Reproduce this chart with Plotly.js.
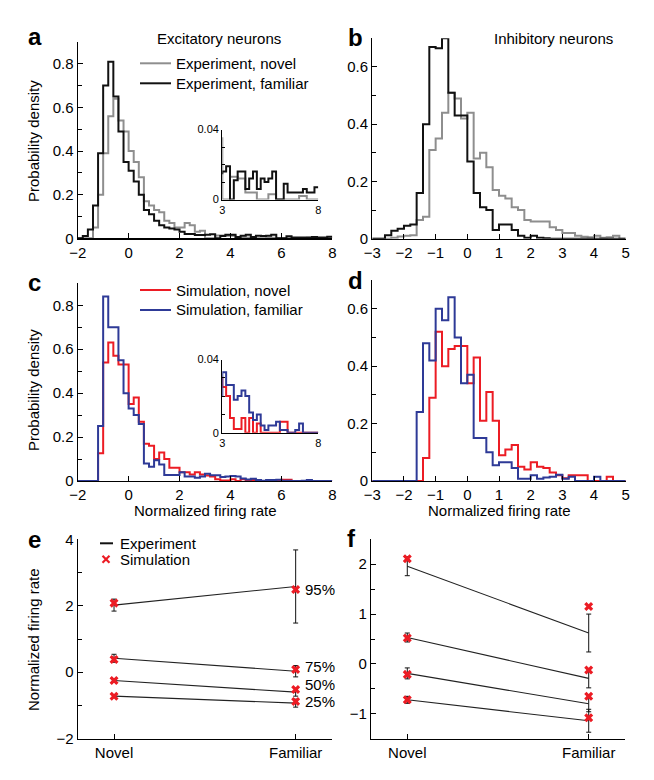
<!DOCTYPE html>
<html><head><meta charset="utf-8">
<script src="https://cdn.plot.ly/plotly-3.0.1.min.js"></script>
<style>html,body{margin:0;padding:0;background:#fff;}#chart{width:654px;height:780px;}</style>
</head><body><div id="chart"></div>
<script>
// ---------- DATA ----------
const binWidth = 0.2;
const excStart = -2;   // first bin edge, panels a & c
const inhStart = -3;   // first bin edge, panels b & d

// Panel a: excitatory, experiment
const aNovel = [0,0,0,0.05,0.20,0.39,0.56,0.64,0.54,0.49,
  0.40,0.35,0.28,0.17,0.15,0.13,0.12,0.08,0.07,0.05,
  0.05,0.07,0.06,0.03,0.035,0,0,0.013,0.013,0.012,
  0.012,0.004,0.004,0.004,0,0,0,0.003,0.003,0,
  0,0,0,0,0,0.002,0.002,0,0,0];
const aFamiliar = [0,0.01,0.04,0.15,0.39,0.70,0.81,0.65,0.49,0.35,
  0.31,0.26,0.20,0.13,0.11,0.08,0.06,0.05,0.045,0.04,
  0.03,0.02,0.02,0.015,0.015,0.016,0.019,0,0.011,0.016,
  0.016,0.006,0.012,0.016,0.006,0.012,0.010,0.012,0.016,0,
  0,0.009,0.004,0.004,0.004,0.004,0.006,0.004,0.004,0.007];

// Panel b: inhibitory, experiment
const bNovel = [0,0,0,0.003,0.008,0.01,0.012,0.065,0.077,0.31,
  0.35,0.44,0.51,0.49,0.42,0.44,0.28,0.30,0.25,0.17,
  0.15,0.14,0.11,0.10,0.065,0.06,0.06,0.06,0.04,0.03,
  0.02,0.02,0.01,0.007,0.005,0.01,0.003,0.005,0.01,0];
const bFamiliar = [0,0,0.012,0.028,0.035,0.045,0.05,0.16,0.40,0.67,
  0.665,0.70,0.51,0.43,0.43,0.27,0.16,0.11,0.10,0.03,
  0.05,0.05,0.03,0.01,0.003,0.01,0.003,0.002,0,0,
  0,0,0,0,0,0,0,0,0,0];

// Panel c: excitatory, simulation
const cNovel = [0,0,0,0,0.126,0.54,0.63,0.57,0.53,0.53,
  0.35,0.38,0.27,0.17,0.16,0.10,0.13,0.10,0.06,0.06,
  0.04,0.04,0.03,0.04,0.03,0.025,0.02,0.008,0.002,0.002,
  0.008,0,0.008,0,0.005,0,0,0,0,0,
  0.006,0.006,0,0,0,0,0,0,0,0];
const cFamiliar = [0,0,0,0,0.25,0.84,0.70,0.70,0.55,0.40,
  0.33,0.30,0.26,0.08,0.065,0.095,0.075,0.027,0.027,0.027,
  0.04,0.02,0.02,0.015,0.02,0.033,0.026,0.026,0.018,0.020,
  0.023,0.020,0.011,0.007,0.010,0.004,0.0015,0.004,0.004,0.006,
  0.0015,0.0015,0,0,0.0015,0.005,0,0,0,0];

// Panel d: inhibitory, simulation
const dNovel = [0,0,0,0,0,0,0,0,0.08,0.29,
  0.52,0.40,0.46,0.47,0.47,0.34,0.43,0.21,0.31,0.21,
  0.09,0.11,0.125,0.05,0.04,0.065,0.05,0.045,0.03,0.02,
  0.01,0.02,0.02,0.02,0,0,0,0.015,0,0];
const dFamiliar = [0,0,0,0,0,0,0,0.24,0.48,0.42,
  0.60,0.56,0.64,0.50,0.34,0.37,0.15,0.15,0.10,0.055,
  0.065,0.065,0.045,0.008,0.008,0.02,0.008,0.012,0.015,0.022,
  0.008,0.015,0,0,0,0.015,0,0,0,0];

// Panels e & f: percentiles (95, 75, 50, 25)
const conditions = ['Novel', 'Familiar'];
const percentiles = ['95%', '75%', '50%', '25%'];
const eExpNovel = [2.02, 0.42, -0.25, -0.72];
const eExpNovelErr = [0.18, 0.12, 0.05, 0.05];
const eExpFamiliar = [2.58, 0.03, -0.60, -0.93];
const eExpFamiliarErr = [1.1, 0.17, 0.12, 0.12];
const eSimNovel = [2.08, 0.38, -0.25, -0.72];
const eSimFamiliar = [2.49, 0.08, -0.52, -0.88];

const fExpNovel = [1.96, 0.53, -0.19, -0.72];
const fExpNovelErr = [0.19, 0.09, 0.11, 0.07];
const fExpFamiliar = [0.62, -0.29, -0.80, -1.14];
const fExpFamiliarErr = [0.38, 0.19, 0.16, 0.23];
const fSimNovel = [2.11, 0.52, -0.21, -0.72];
const fSimFamiliar = [1.15, -0.12, -0.65, -1.08];

// ---------- STYLE ----------
const FONT = 'Liberation Sans, Arial, Helvetica, sans-serif';
const GRAY = '#8e8e8e', BLACK = '#111111', RED = '#ec1c24', BLUE = '#2e3a97';
const W = 654, H = 780;
const px = v => v / W;
const py = v => 1 - v / H;

function stepTrace(start, vals, xa, ya, color) {
  const xs = vals.map((_, i) => +(start + i * binWidth).toFixed(3));
  xs.push(+(start + vals.length * binWidth).toFixed(3));
  const ys = vals.concat([vals[vals.length - 1]]);
  return {type: 'scatter', mode: 'lines', x: xs, y: ys, xaxis: xa, yaxis: ya,
    line: {shape: 'hv', color: color, width: 2}, hoverinfo: 'skip'};
}

const traces = [];
traces.push(stepTrace(excStart, aNovel, 'x', 'y', GRAY));
traces.push(stepTrace(excStart, aFamiliar, 'x', 'y', BLACK));
traces.push(stepTrace(inhStart, bNovel, 'x2', 'y2', GRAY));
traces.push(stepTrace(inhStart, bFamiliar, 'x2', 'y2', BLACK));
traces.push(stepTrace(excStart, cNovel, 'x3', 'y3', RED));
traces.push(stepTrace(excStart, cFamiliar, 'x3', 'y3', BLUE));
traces.push(stepTrace(inhStart, dNovel, 'x4', 'y4', RED));
traces.push(stepTrace(inhStart, dFamiliar, 'x4', 'y4', BLUE));
traces.push(stepTrace(excStart, aNovel, 'x7', 'y7', GRAY));
traces.push(stepTrace(excStart, aFamiliar, 'x7', 'y7', BLACK));
traces.push(stepTrace(excStart, cNovel, 'x8', 'y8', RED));
traces.push(stepTrace(excStart, cFamiliar, 'x8', 'y8', BLUE));

function pctTraces(expN, expNErr, expF, expFErr, simN, simF, xa, ya) {
  const out = [];
  for (let i = 0; i < expN.length; i++) {
    out.push({type: 'scatter', mode: 'lines', x: [0, 1], y: [expN[i], expF[i]],
      xaxis: xa, yaxis: ya, line: {color: '#222', width: 1.1}, hoverinfo: 'skip',
      error_y: {type: 'data', array: [expNErr[i], expFErr[i]], visible: true,
        color: '#111', thickness: 1, width: 2.5}});
  }
  out.push({type: 'scatter', mode: 'markers',
    x: simN.map(() => 0).concat(simF.map(() => 1)), y: simN.concat(simF),
    xaxis: xa, yaxis: ya, hoverinfo: 'skip',
    marker: {symbol: 'x', size: 8, color: RED, line: {width: 0}}});
  return out;
}
traces.push(...pctTraces(eExpNovel, eExpNovelErr, eExpFamiliar, eExpFamiliarErr, eSimNovel, eSimFamiliar, 'x5', 'y5'));
traces.push(...pctTraces(fExpNovel, fExpNovelErr, fExpFamiliar, fExpFamiliarErr, fSimNovel, fSimFamiliar, 'x6', 'y6'));

// ---------- AXES ----------
function axis(extra) {
  return Object.assign({showline: true, linecolor: '#000', linewidth: 1.2,
    ticks: 'inside', ticklen: 5, tickwidth: 1, tickcolor: '#000',
    showgrid: false, zeroline: false, fixedrange: true,
    tickfont: {family: FONT, size: 15, color: '#000'}}, extra);
}
const minorY = d => ({ticks: 'inside', ticklen: 4, tickwidth: 1, tickcolor: '#000', dtick: d, showgrid: false});

const dom = {
  a: {x: [px(77.7), px(332.3)], y: [py(238.3), py(42)]},
  b: {x: [px(372.3), px(625.7)], y: [py(238.7), py(38.3)]},
  c: {x: [px(77.7), px(332.3)], y: [py(481), py(283.3)]},
  d: {x: [px(372.3), px(625.7)], y: [py(481), py(280)]},
  e: {x: [px(77.7), px(332)], y: [py(738.7), py(539.3)]},
  f: {x: [px(371), px(625)], y: [py(738.7), py(539.3)]},
  ia: {x: [px(222.3), px(318.3)], y: [py(199.5), py(129.5)]},
  ic: {x: [px(222.3), px(318.3)], y: [py(432.7), py(359.5)]}
};

const smallFont = {family: FONT, size: 11, color: '#000'};

const layout = {
  width: W, height: H, margin: {l: 0, r: 0, t: 0, b: 0},
  paper_bgcolor: '#fff', plot_bgcolor: 'rgba(0,0,0,0)', showlegend: false,
  font: {family: FONT, size: 15, color: '#000'},
  xaxis: axis({domain: dom.a.x, anchor: 'y', range: [-2, 8], tickmode: 'linear', tick0: -2, dtick: 2}),
  yaxis: axis({domain: dom.a.y, anchor: 'x', range: [0, 0.9], tickmode: 'linear', tick0: 0, dtick: 0.2, minor: minorY(0.1)}),
  xaxis2: axis({domain: dom.b.x, anchor: 'y2', range: [-3, 5], tickmode: 'linear', tick0: -3, dtick: 1}),
  yaxis2: axis({domain: dom.b.y, anchor: 'x2', range: [0, 0.7], tickmode: 'linear', tick0: 0, dtick: 0.2, minor: minorY(0.1)}),
  xaxis3: axis({domain: dom.c.x, anchor: 'y3', range: [-2, 8], tickmode: 'linear', tick0: -2, dtick: 2}),
  yaxis3: axis({domain: dom.c.y, anchor: 'x3', range: [0, 0.9], tickmode: 'linear', tick0: 0, dtick: 0.2, minor: minorY(0.1)}),
  xaxis4: axis({domain: dom.d.x, anchor: 'y4', range: [-3, 5], tickmode: 'linear', tick0: -3, dtick: 1}),
  yaxis4: axis({domain: dom.d.y, anchor: 'x4', range: [0, 0.7], tickmode: 'linear', tick0: 0, dtick: 0.2, minor: minorY(0.1)}),
  xaxis5: axis({domain: dom.e.x, anchor: 'y5', range: [-0.2, 1.2], tickmode: 'array', tickvals: [0, 1], ticktext: conditions}),
  yaxis5: axis({domain: dom.e.y, anchor: 'x5', range: [-2, 4], tickmode: 'linear', tick0: 0, dtick: 2, minor: minorY(1)}),
  xaxis6: axis({domain: dom.f.x, anchor: 'y6', range: [-0.2, 1.2], tickmode: 'array', tickvals: [0, 1], ticktext: conditions}),
  yaxis6: axis({domain: dom.f.y, anchor: 'x6', range: [-1.5, 2.5], tickmode: 'linear', tick0: 0, dtick: 1, minor: minorY(0.5)}),
  xaxis7: axis({domain: dom.ia.x, anchor: 'y7', range: [3, 8], tickmode: 'linear', tick0: 3, dtick: 5, ticklen: 3, tickfont: smallFont}),
  yaxis7: axis({domain: dom.ia.y, anchor: 'x7', range: [0, 0.04], tickmode: 'linear', tick0: 0, dtick: 0.04, ticklen: 3, tickfont: smallFont, minor: Object.assign(minorY(0.01), {ticklen: 3})}),
  xaxis8: axis({domain: dom.ic.x, anchor: 'y8', range: [3, 8], tickmode: 'linear', tick0: 3, dtick: 5, ticklen: 3, tickfont: smallFont}),
  yaxis8: axis({domain: dom.ic.y, anchor: 'x8', range: [0, 0.04], tickmode: 'linear', tick0: 0, dtick: 0.04, ticklen: 3, tickfont: smallFont, minor: Object.assign(minorY(0.01), {ticklen: 3})}),
  shapes: [], annotations: []
};

function ann(text, x, y, opts) {
  layout.annotations.push(Object.assign({text: text, x: x, y: y, xref: 'paper', yref: 'paper',
    showarrow: false, xanchor: 'center', yanchor: 'middle',
    font: {family: FONT, size: 15, color: '#000'}}, opts || {}));
}
function legLine(x0, x1, y, color) {
  layout.shapes.push({type: 'line', xref: 'paper', yref: 'paper', x0: px(x0), x1: px(x1), y0: py(y), y1: py(y),
    line: {color: color, width: 2}});
}

// panel letters
const letterFont = {family: FONT, size: 24, color: '#000'};
ann('<b>a</b>', px(26), py(36), {xanchor: 'left', font: letterFont});
ann('<b>b</b>', px(346), py(37), {xanchor: 'left', font: letterFont});
ann('<b>c</b>', px(26), py(282), {xanchor: 'left', font: letterFont});
ann('<b>d</b>', px(346), py(280), {xanchor: 'left', font: letterFont});
ann('<b>e</b>', px(26), py(539), {xanchor: 'left', font: letterFont});
ann('<b>f</b>', px(345), py(538), {xanchor: 'left', font: letterFont});

// titles
ann('Excitatory neurons', px(219), py(38));
ann('Inhibitory neurons', px(553.5), py(38));

// axis titles
ann('Probability density', px(33), py(141), {textangle: -90});
ann('Probability density', px(33), py(390), {textangle: -90});
ann('Normalized firing rate', px(205), py(510));
ann('Normalized firing rate', px(499), py(510));
ann('Normalized firing rate', px(33), py(640), {textangle: -90});

// legends a & c
legLine(140, 171, 63.3, GRAY);
legLine(140, 171, 83.3, BLACK);
ann('Experiment, novel', px(174), py(63.3), {xanchor: 'left'});
ann('Experiment, familiar', px(174), py(83.3), {xanchor: 'left'});
legLine(140, 171, 290, RED);
legLine(140, 171, 310, BLUE);
ann('Simulation, novel', px(174), py(290), {xanchor: 'left'});
ann('Simulation, familiar', px(174), py(310), {xanchor: 'left'});

// legend e
legLine(100, 113, 543.3, BLACK);
ann('Experiment', px(118), py(543.3), {xanchor: 'left'});
layout.shapes.push({type: 'line', xref: 'paper', yref: 'paper', x0: px(102.5), x1: px(109.5), y0: py(555.8), y1: py(562.8), line: {color: RED, width: 2.2}});
layout.shapes.push({type: 'line', xref: 'paper', yref: 'paper', x0: px(102.5), x1: px(109.5), y0: py(562.8), y1: py(555.8), line: {color: RED, width: 2.2}});
ann('Simulation', px(118), py(559.3), {xanchor: 'left'});

// percentile labels in e
const labelShift = [0, 2.6, 5, -0.5];
percentiles.forEach((p, i) => {
  layout.annotations.push({text: p, x: 1, y: eSimFamiliar[i], xref: 'x5', yref: 'y5',
    xanchor: 'left', yanchor: 'middle', xshift: 7, yshift: labelShift[i], showarrow: false,
    font: {family: FONT, size: 15, color: '#000'}});
});

Plotly.newPlot('chart', traces, layout, {staticPlot: true, displayModeBar: false});
</script>
</body></html>
